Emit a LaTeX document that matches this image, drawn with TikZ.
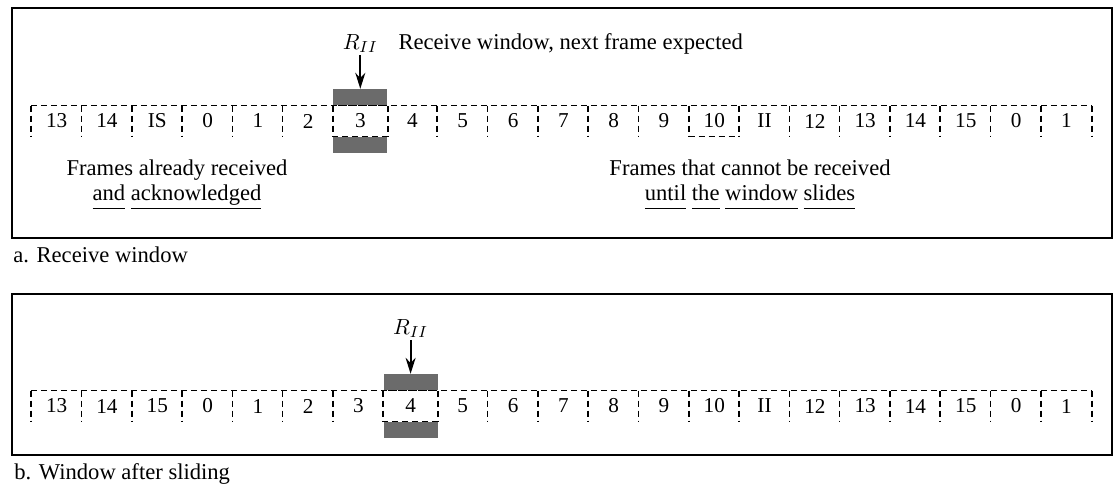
\documentclass[tikz,border=0pt]{standalone}
\usepackage{fontspec}
\setmainfont{Liberation Serif}
\usetikzlibrary{arrows.meta,positioning}
\newcommand\uword[1]{\underline{#1\vphantom{g}}}

\begin{document}
\begin{tikzpicture}[
  x=0.5pt, y=-0.5pt, font=\fontsize{11.3}{12.5}\selectfont,
  panel/.style={draw, line width=1pt},
  cell/.style={minimum width=25.15pt, minimum height=15pt, inner sep=0pt, font=\fontsize{10.6}{12}\selectfont},
  wcell/.style={cell, minimum width=27pt},
  seam/.style={line width=0.8pt, dash pattern=on 3pt off 2pt},
  grayband/.style={fill=black!58, minimum width=27pt, minimum height=8pt, inner sep=0pt},
  >={Stealth[length=8pt, width=5pt]}]
\useasboundingbox (0,0) rectangle (1114,487);

% a. receive window
\draw[panel] (12,8) rectangle (1112,238);
\foreach \lab [count=\i from 0] in {13,14,IS,0,1,2}
  \node[cell] (ca\i) at (56.65+50.3*\i,121) {\lab};
\node[wcell] (wa) at (360.3,121) {3};
\foreach \lab [count=\i from 0] in {4,5,6,7,8,9,10,II,12,13,14,15,0,1}
  \node[cell] (da\i) at (412.45+50.3*\i,121) {\lab};
\node[grayband, above=0pt of wa] (ua) {};
\node[grayband, below=0pt of wa] (la) {};
\draw[seam] (ca0.north west) -- (da13.north east);
\foreach \i in {0,...,5}
  \draw[seam] (ca\i.north west) -- (ca\i.south west);
\foreach \i in {1,...,13}
  \draw[seam] (da\i.north west) -- (da\i.south west);
\draw[seam] (da13.north east) -- (da13.south east);
\draw[seam] (da6.south west) -- (da6.south east);
\draw[seam] (wa.north west) rectangle (wa.south east);
\node[inner sep=1pt, above=17pt of ua] (ra) {$R_{II}$};
\draw[->, line width=0.9pt] (ra) -- (ua);
\node[right=9pt of ra.base east, anchor=base west, inner sep=0pt] (ta) {Receive window, next frame expected};
\node[align=center] (fa) at (177,185) {Frames already received\\\uword{and} \uword{acknowledged}};
\node[align=center] (ga) at (750,185) {Frames that cannot be received\\\uword{until} \uword{the} \uword{window} \uword{slides}};
\node[anchor=west, inner sep=0pt] (capa) at (13,255) {a. Receive window};

% b. window after sliding
\draw[panel] (12,294) rectangle (1112,455);
\foreach \lab [count=\i from 0] in {13,14,15,0,1,2,3}
  \node[cell] (cb\i) at (56.65+50.3*\i,406) {\lab};
\node[wcell] (wb) at (410.6,406) {4};
\foreach \lab [count=\i from 0] in {5,6,7,8,9,10,II,12,13,14,15,0,1}
  \node[cell] (db\i) at (462.75+50.3*\i,406) {\lab};
\node[grayband, above=0pt of wb] (ub) {};
\node[grayband, below=0pt of wb] (lb) {};
\draw[seam] (cb0.north west) -- (db12.north east);
\foreach \i in {0,...,6}
  \draw[seam] (cb\i.north west) -- (cb\i.south west);
\foreach \i in {1,...,12}
  \draw[seam] (db\i.north west) -- (db\i.south west);
\draw[seam] (db12.north east) -- (db12.south east);
\draw[seam] (wb.north west) rectangle (wb.south east);
\node[inner sep=1pt, above=17pt of ub] (rb) {$R_{II}$};
\draw[->, line width=0.9pt] (rb) -- (ub);
\node[anchor=west, inner sep=0pt] (capb) at (14,474) {b. Window after sliding};
\end{tikzpicture}
\end{document}
